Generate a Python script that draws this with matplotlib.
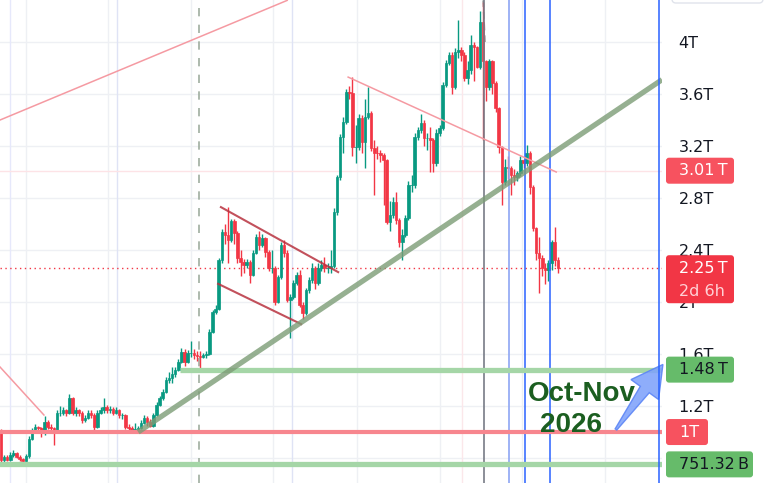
import matplotlib
matplotlib.use("Agg")
import numpy as np
import matplotlib.pyplot as plt
from matplotlib.patches import FancyBboxPatch, Polygon

W, H = 771, 483
PLOT_W = 662

# OHLC in trillions, one candle per period
opens = [
    1.0, 0.785, 0.81, 0.785, 0.82, 0.84, 0.81, 0.79, 0.78, 0.815,
    0.95, 1.015, 1.04, 1.03, 0.99, 1.08, 1.04, 1.03, 1.0, 1.15,
    1.15, 1.17, 1.15, 1.26, 1.15, 1.17, 1.15, 1.09, 1.11, 1.15,
    1.13, 1.04, 1.15, 1.17, 1.19, 1.17, 1.18, 1.15, 1.17, 1.13,
    1.13, 1.04, 1.03, 1.015, 1.02, 1.03, 1.07, 1.11, 1.08, 1.05,
    1.13, 1.21, 1.26, 1.31, 1.40, 1.415, 1.45, 1.48, 1.54, 1.615,
    1.54, 1.61, 1.61, 1.59, 1.585, 1.58, 1.59, 1.60, 1.77, 1.92,
    1.95, 2.32, 2.54, 2.515, 2.48, 2.62, 2.53, 2.34, 2.31, 2.285,
    2.31, 2.21, 2.38, 2.50, 2.44, 2.49, 2.385, 2.26, 2.26, 2.0,
    2.19, 2.44, 2.38, 2.015, 2.04, 2.15, 2.21, 1.98, 1.915, 2.09,
    2.17, 2.26, 2.15, 2.26, 2.285, 2.26, 2.26, 2.28, 2.69, 2.96,
    3.27, 3.385, 3.615, 3.61, 3.19, 3.19, 3.415, 3.23, 3.42, 3.455,
    3.185, 3.15, 3.146, 3.13, 3.09, 2.615, 2.67, 2.77, 2.63, 2.46,
    2.515, 2.65, 2.90, 2.90, 3.27, 3.32, 3.38, 3.26, 3.26, 3.25,
    3.07, 3.30, 3.34, 3.67, 3.84, 3.90, 3.65, 3.92, 3.94, 3.90,
    3.72, 3.785, 3.98, 3.96, 3.81, 4.15, 3.85, 3.65, 3.85, 3.685,
    3.49, 3.19, 2.92, 3.04, 3.03, 2.98, 2.96, 2.99, 3.09, 3.07,
    3.15, 2.885, 2.57, 2.38, 2.34, 2.26, 2.25, 2.30, 2.46, 2.32,
]
highs = [
    1.02, 0.82, 0.82, 0.85, 0.86, 0.85, 0.82, 0.80, 0.83, 0.97,
    1.03, 1.06, 1.05, 1.04, 1.12, 1.09, 1.06, 1.04, 1.17, 1.20,
    1.19, 1.18, 1.29, 1.27, 1.19, 1.18, 1.16, 1.13, 1.17, 1.17,
    1.15, 1.17, 1.19, 1.26, 1.21, 1.20, 1.19, 1.19, 1.18, 1.15,
    1.14, 1.06, 1.05, 1.07, 1.05, 1.09, 1.13, 1.12, 1.10, 1.15,
    1.23, 1.28, 1.33, 1.42, 1.46, 1.50, 1.50, 1.56, 1.65, 1.64,
    1.63, 1.70, 1.64, 1.62, 1.62, 1.61, 1.62, 1.79, 1.94, 1.98,
    2.34, 2.56, 2.60, 2.73, 2.64, 2.64, 2.55, 2.40, 2.33, 2.33,
    2.32, 2.40, 2.52, 2.55, 2.52, 2.50, 2.40, 2.40, 2.28, 2.21,
    2.46, 2.48, 2.40, 2.06, 2.17, 2.23, 2.25, 2.0, 2.11, 2.19,
    2.30, 2.28, 2.30, 2.32, 2.35, 2.30, 2.40, 2.72, 2.98, 3.29,
    3.42, 3.64, 3.66, 3.73, 3.36, 3.45, 3.44, 3.56, 3.65, 3.47,
    3.25, 3.20, 3.17, 3.15, 3.10, 2.78, 2.81, 2.85, 2.65, 2.56,
    2.67, 2.93, 2.98, 3.30, 3.35, 3.45, 3.40, 3.30, 3.35, 3.26,
    3.33, 3.36, 3.69, 3.86, 3.92, 3.92, 3.95, 4.17, 3.96, 3.92,
    3.85, 4.05, 4.0, 3.97, 4.24, 4.31, 3.86, 3.87, 3.86, 3.70,
    3.50, 3.20, 3.10, 3.12, 3.05, 3.02, 3.01, 3.12, 3.10, 3.21,
    3.16, 2.90, 2.58, 2.50, 2.36, 2.30, 2.32, 2.48, 2.58, 2.35,
]
lows = [
    0.77, 0.77, 0.78, 0.78, 0.81, 0.80, 0.78, 0.77, 0.77, 0.80,
    0.94, 1.0, 1.01, 0.96, 0.98, 1.02, 1.0, 0.90, 0.99, 1.12,
    1.13, 1.12, 1.14, 1.13, 1.12, 1.12, 1.07, 1.08, 1.10, 1.11,
    1.0, 1.03, 1.14, 1.15, 1.15, 1.15, 1.13, 1.14, 1.11, 1.10,
    1.02, 1.0, 1.0, 1.0, 1.0, 1.02, 1.06, 1.05, 1.04, 1.04,
    1.12, 1.20, 1.25, 1.30, 1.38, 1.38, 1.42, 1.47, 1.53, 1.51,
    1.53, 1.58, 1.56, 1.55, 1.48, 1.57, 1.57, 1.59, 1.76, 1.91,
    1.94, 2.30, 2.45, 2.30, 2.46, 2.45, 2.30, 2.20, 2.22, 2.26,
    2.15, 2.20, 2.37, 2.40, 2.42, 2.35, 2.24, 2.22, 1.98, 1.99,
    2.18, 2.35, 2.0, 1.72, 2.02, 2.13, 1.96, 1.87, 1.90, 2.07,
    2.15, 2.10, 2.13, 2.24, 2.23, 2.22, 2.22, 2.26, 2.67, 2.94,
    3.15, 3.37, 3.56, 3.12, 3.07, 3.17, 3.15, 3.03, 3.41, 3.16,
    2.82, 3.10, 3.08, 2.75, 2.60, 2.55, 2.65, 2.60, 2.42, 2.32,
    2.50, 2.63, 2.85, 2.88, 3.25, 3.30, 3.20, 3.17, 3.00, 3.0,
    3.05, 3.28, 3.32, 3.65, 3.82, 3.60, 3.64, 3.88, 3.85, 3.70,
    3.68, 3.75, 3.70, 3.80, 3.79, 3.25, 3.55, 3.63, 3.60, 3.46,
    3.15, 2.75, 2.90, 2.95, 2.82, 2.90, 2.93, 2.97, 3.03, 3.05,
    2.83, 2.55, 2.32, 2.07, 2.20, 2.14, 2.16, 2.25, 2.28, 2.22,
]
closes = [
    0.785, 0.81, 0.785, 0.82, 0.84, 0.81, 0.79, 0.78, 0.815, 0.95,
    1.015, 1.04, 1.03, 0.99, 1.08, 1.04, 1.03, 1.0, 1.15, 1.15,
    1.17, 1.15, 1.26, 1.15, 1.17, 1.15, 1.09, 1.11, 1.15, 1.13,
    1.04, 1.15, 1.17, 1.19, 1.17, 1.18, 1.15, 1.17, 1.13, 1.13,
    1.04, 1.03, 1.015, 1.02, 1.03, 1.07, 1.11, 1.08, 1.05, 1.13,
    1.21, 1.26, 1.31, 1.40, 1.415, 1.45, 1.48, 1.54, 1.615, 1.54,
    1.61, 1.61, 1.59, 1.585, 1.58, 1.59, 1.60, 1.77, 1.92, 1.95,
    2.32, 2.54, 2.515, 2.48, 2.62, 2.53, 2.34, 2.31, 2.285, 2.31,
    2.21, 2.38, 2.50, 2.44, 2.49, 2.385, 2.26, 2.26, 2.0, 2.19,
    2.44, 2.38, 2.015, 2.04, 2.15, 2.21, 1.98, 1.915, 2.09, 2.17,
    2.26, 2.15, 2.26, 2.285, 2.26, 2.26, 2.28, 2.69, 2.96, 3.27,
    3.385, 3.615, 3.61, 3.19, 3.19, 3.415, 3.23, 3.42, 3.455, 3.185,
    3.15, 3.146, 3.13, 3.09, 2.615, 2.67, 2.77, 2.63, 2.46, 2.515,
    2.65, 2.90, 2.90, 3.27, 3.32, 3.38, 3.26, 3.26, 3.25, 3.07,
    3.30, 3.34, 3.67, 3.84, 3.90, 3.65, 3.92, 3.94, 3.90, 3.72,
    3.785, 3.98, 3.96, 3.81, 4.15, 3.85, 3.65, 3.85, 3.685, 3.49,
    3.19, 2.92, 3.04, 3.03, 2.98, 2.96, 2.99, 3.09, 3.07, 3.15,
    2.885, 2.57, 2.38, 2.34, 2.26, 2.25, 2.30, 2.46, 2.32, 2.26,
]

price_ticks = [1.2, 1.6, 2.0, 2.4, 2.8, 3.2, 3.6, 4.0]
tick_labels = ["1.2T", "1.6T", "2T", "2.4T", "2.8T", "3.2T", "3.6T", "4T"]
grid_prices = [0.8, 1.2, 1.6, 2.0, 2.4, 2.8, 3.2, 3.6, 4.0]
grid_bars = [8.0, 34.5, 61.0, 87.5, 114.5, 141.0, 167.5, 194.2]

# key levels
support_top = 1.48
support_mid = 1.0
support_low = 0.7513
prev_level = 3.01

# drawn trend lines as (bar index, price) endpoints
line_top_left = [(-0.3, 3.40), (92.0, 4.32)]
line_low_left = [(-0.3, 1.50), (13.8, 1.131)]
line_from_peak = [(111.6, 3.73), (178.5, 3.0)]
channel_upper = [(70.7, 2.73), (108.4, 2.23)]
channel_lower = [(69.8, 2.14), (96.5, 1.83)]
main_trend = [(44.1, 1.0), (212.5, 3.71)]
arrow_pts = [(197.7, 1.02), (212.8, 1.52)]

GREEN = "#089981"
RED = "#f23645"

fig = plt.figure(figsize=(W / 100, H / 100), dpi=100)
fig.patch.set_facecolor("white")
ax = fig.add_axes([0, 0, PLOT_W / W, 1])
ax.set_xlim(-0.32, 212.5)
ax.set_ylim(0.608, 4.323)
for s in ax.spines.values():
    s.set_visible(False)
ax.set_xticks([])

# grid
for g in grid_prices:
    ax.axhline(g, color="#eef0f4", lw=1.0, zorder=0)
for g in grid_bars:
    ax.axvline(g, color="#eef0f4", lw=1.0, zorder=0)
for g, c in [(2.9, "#e6e8fb"), (37.3, "#dfe3f5"), (93.5, "#dfe3f5"), (148.3, "#fbe7ea")]:
    ax.axvline(g, color=c, lw=1.0, zorder=0)
ax.axhline(prev_level, color="#fde3e6", lw=1.0, zorder=0)

# vertical markers
ax.axvline(63.7, color="#9fae9f", lw=1.2, ls=(0, (5, 5)), zorder=1)
ax.plot([155.0, 155.6], [4.32, 4.0], color="#9a9a9a", lw=1.2, ls=(0, (4, 3)), zorder=1)
ax.axvline(155.3, color="#787b86", lw=1.2, zorder=4)
ax.axvline(163.3, color="#8ea6f3", lw=1.2, zorder=4)
ax.axvline(168.5, color="#2962ff", lw=1.1, zorder=4)
ax.axvline(176.5, color="#2962ff", lw=1.1, zorder=4)

# candles
xs = list(range(len(closes)))
cols = [GREEN if c >= o else RED for o, c in zip(opens, closes)]
ax.vlines(xs, lows, highs, colors=cols, lw=1.0, zorder=3)
ax.bar(xs, [c - o for o, c in zip(opens, closes)], bottom=opens, width=0.82,
       color=cols, edgecolor=cols, lw=0.5, zorder=3)

# last price line
ax.axhline(closes[-1], color=RED, lw=1.0, ls=(0, (1, 2.5)), zorder=2)

# horizontal levels
ax.axhline(support_low, color="#a5d6a7", lw=3.8, zorder=5)
ax.axhline(support_mid, color="#f7868e", lw=3.0, zorder=5)
ax.plot([57.6, 212.5], [support_top, support_top], color="#a5d6a7", lw=3.8,
        zorder=5, solid_capstyle="butt")

# trend lines
for seg in (line_top_left, line_low_left, line_from_peak):
    ax.plot(*zip(*seg), color="#f59aa2", lw=1.1, zorder=4)
for seg in (channel_upper, channel_lower):
    ax.plot(*zip(*seg), color="#b8323f", lw=1.5, alpha=0.85, zorder=4)
ax.plot(*zip(*main_trend), color="#7c9c76", lw=3.8, alpha=0.8, zorder=5,
        solid_capstyle="butt")

# annotation text
ax.text(186.8, 1.292, "Oct-Nov", family="Liberation Sans", weight="bold", fontsize=20,
        color="#1b5e20", ha="center", va="center", zorder=6)
ax.text(183.3, 1.054, "2026", family="Liberation Sans", weight="bold", fontsize=20,
        color="#1b5e20", ha="center", va="center", zorder=6)

# price scale on the right
ax.yaxis.tick_right()
ax.set_yticks(price_ticks)
ax.set_yticklabels(tick_labels)
ax.tick_params(axis="y", length=0, pad=12, labelsize=11.5, labelcolor="#131722")

# overlay in pixel units for the arrow and price-scale boxes
lab = fig.add_axes([0, 0, 1, 1], zorder=5)
lab.set_xlim(0, W)
lab.set_ylim(H, 0)
lab.axis("off")
lab.patch.set_visible(False)


def to_pix(x, v):
    px, py = ax.transData.transform((x, v))
    return np.array([px, H - py])


# tapered arrow
tail = to_pix(*arrow_pts[0])
tip = to_pix(*arrow_pts[1])
d = (tip - tail) / np.hypot(*(tip - tail))
n = np.array([-d[1], d[0]])
base = tip - d * 31
arrow = Polygon([
    tail + n * 1.0, base + n * 5.5, base + n * 17, tip,
    base - n * 17, base - n * 5.5, tail - n * 1.0,
], closed=True, fc="#7fa2fb", ec="#5a84f6", lw=1.0, alpha=0.88, zorder=3)
lab.add_patch(arrow)
bx = to_pix(211.6, 1.0)[0]
lab.plot([bx, bx], [0, H], color="#2962ff", lw=1.1, zorder=4)


def price_box(v, text, fc, tc, width, sub=None):
    y = to_pix(0, v)[1]
    top = y - 13
    h = 26 if sub is None else 48
    lab.add_patch(FancyBboxPatch((666, top), width, h,
                                 boxstyle="round,pad=0,rounding_size=3",
                                 fc=fc, ec="none", zorder=5))
    lab.text(679, y, text, color=tc, fontsize=11.5, ha="left", va="center", zorder=6)
    if sub:
        lab.text(679, y + 23, sub, color="#ffd0d5", fontsize=11.5,
                 ha="left", va="center", zorder=6)


price_box(prev_level, "3.01\u2009T", "#f7525f", "white", 68)
price_box(closes[-1], "2.25\u2009T", RED, "white", 68, sub="2d 6h")
price_box(support_top, "1.48\u2009T", "#66bb6a", "#131722", 68)
price_box(support_mid, "1T", "#f7525f", "white", 42)
price_box(support_low, "751.32\u2009B", "#66bb6a", "#131722", 87)
lab.add_patch(FancyBboxPatch((672, -8), 91, 11, boxstyle="round,pad=0,rounding_size=4",
                             fc="white", ec="#e0e3eb", lw=1))

fig.savefig("out.png", dpi=100, facecolor="white")
